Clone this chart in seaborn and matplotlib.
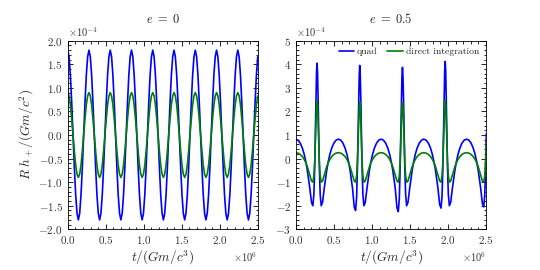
import numpy as np
import matplotlib
matplotlib.use("Agg")
import matplotlib.pyplot as plt
import seaborn as sns
from matplotlib.ticker import AutoMinorLocator, MultipleLocator

# e = 0 : waveform sampled at 144 points over t in [0, 2.5] (x 1e6), values x 1e-4
quad_e0 = [
    1.80, 1.66, 1.27, 0.69, 0.00, -0.69, -1.27, -1.66, -1.80, -1.66, -1.27, -0.69, 0.00, 0.69, 1.27, 1.66,
    1.80, 1.66, 1.27, 0.69, 0.00, -0.69, -1.27, -1.66, -1.80, -1.66, -1.27, -0.69, 0.00, 0.69, 1.27, 1.66,
    1.80, 1.66, 1.27, 0.69, 0.00, -0.69, -1.27, -1.66, -1.80, -1.66, -1.27, -0.69, 0.00, 0.69, 1.27, 1.66,
    1.80, 1.66, 1.27, 0.69, 0.00, -0.69, -1.27, -1.66, -1.80, -1.66, -1.27, -0.69, 0.00, 0.69, 1.27, 1.66,
    1.80, 1.66, 1.27, 0.69, 0.00, -0.69, -1.27, -1.66, -1.80, -1.66, -1.27, -0.69, 0.00, 0.69, 1.27, 1.66,
    1.80, 1.66, 1.27, 0.69, 0.00, -0.69, -1.27, -1.66, -1.80, -1.66, -1.27, -0.69, 0.00, 0.69, 1.27, 1.66,
    1.80, 1.66, 1.27, 0.69, 0.00, -0.69, -1.27, -1.66, -1.80, -1.66, -1.27, -0.69, 0.00, 0.69, 1.27, 1.66,
    1.80, 1.66, 1.27, 0.69, 0.00, -0.69, -1.27, -1.66, -1.80, -1.66, -1.27, -0.69, 0.00, 0.69, 1.27, 1.66,
    1.80, 1.66, 1.27, 0.69, 0.00, -0.69, -1.27, -1.66, -1.80, -1.66, -1.27, -0.69, 0.00, 0.69, 1.27, 1.66,
]
direct_e0 = [
    0.90, 0.83, 0.64, 0.34, 0.00, -0.34, -0.64, -0.83, -0.90, -0.83, -0.64, -0.34, 0.00, 0.34, 0.64, 0.83,
    0.90, 0.83, 0.64, 0.34, 0.00, -0.34, -0.64, -0.83, -0.90, -0.83, -0.64, -0.34, 0.00, 0.34, 0.64, 0.83,
    0.90, 0.83, 0.64, 0.34, 0.00, -0.34, -0.64, -0.83, -0.90, -0.83, -0.64, -0.34, 0.00, 0.34, 0.64, 0.83,
    0.90, 0.83, 0.64, 0.34, 0.00, -0.34, -0.64, -0.83, -0.90, -0.83, -0.64, -0.34, 0.00, 0.34, 0.64, 0.83,
    0.90, 0.83, 0.64, 0.34, 0.00, -0.34, -0.64, -0.83, -0.90, -0.83, -0.64, -0.34, 0.00, 0.34, 0.64, 0.83,
    0.90, 0.83, 0.64, 0.34, 0.00, -0.34, -0.64, -0.83, -0.90, -0.83, -0.64, -0.34, 0.00, 0.34, 0.64, 0.83,
    0.90, 0.83, 0.64, 0.34, 0.00, -0.34, -0.64, -0.83, -0.90, -0.83, -0.64, -0.34, 0.00, 0.34, 0.64, 0.83,
    0.90, 0.83, 0.64, 0.34, 0.00, -0.34, -0.64, -0.83, -0.90, -0.83, -0.64, -0.34, 0.00, 0.34, 0.64, 0.83,
    0.90, 0.83, 0.64, 0.34, 0.00, -0.34, -0.64, -0.83, -0.90, -0.83, -0.64, -0.34, 0.00, 0.34, 0.64, 0.83,
]
t_e0 = np.linspace(0.0, 2.5, len(quad_e0))

# e = 0.5 : denser sampling around each periastron burst
t_e05 = [
    0.0,
    0.0263, 0.0555, 0.0829, 0.1079, 0.1301, 0.1497, 0.1812, 0.2046, 0.2221, 0.2355, 0.2463, 0.2552, 0.2631, 0.2702, 0.2770,
    0.2838, 0.2909, 0.2988, 0.3077, 0.3185, 0.3319, 0.3494, 0.3728, 0.4043, 0.4239, 0.4461, 0.4711, 0.4985, 0.5278, 0.5580,
    0.5883, 0.6175, 0.6449, 0.6699, 0.6921, 0.7117, 0.7432, 0.7666, 0.7841, 0.7975, 0.8083, 0.8172, 0.8251, 0.8322, 0.8390,
    0.8458, 0.8529, 0.8608, 0.8697, 0.8805, 0.8939, 0.9114, 0.9348, 0.9663, 0.9859, 1.0081, 1.0331, 1.0605, 1.0898, 1.1200,
    1.1503, 1.1795, 1.2069, 1.2319, 1.2541, 1.2737, 1.3052, 1.3286, 1.3461, 1.3595, 1.3703, 1.3792, 1.3871, 1.3942, 1.4010,
    1.4078, 1.4149, 1.4228, 1.4317, 1.4425, 1.4559, 1.4734, 1.4968, 1.5283, 1.5479, 1.5701, 1.5951, 1.6225, 1.6518, 1.6820,
    1.7123, 1.7415, 1.7689, 1.7939, 1.8161, 1.8357, 1.8672, 1.8906, 1.9081, 1.9215, 1.9323, 1.9412, 1.9491, 1.9562, 1.9630,
    1.9698, 1.9769, 1.9848, 1.9937, 2.0045, 2.0179, 2.0354, 2.0588, 2.0903, 2.1099, 2.1321, 2.1571, 2.1845, 2.2138, 2.2440,
    2.2743, 2.3035, 2.3309, 2.3559, 2.3781, 2.3977, 2.4292, 2.4526, 2.4701, 2.4835, 2.4943, 2.5032,
]
quad_e05 = [
    0.82,
    0.783, 0.658, 0.455, 0.184, -0.141, -0.503, -1.238, -1.86, -2.00, -1.52, -0.413, 1.053, 2.566, 3.64, 4.05,
    3.64, 2.566, 1.053, -0.413, -1.52, -2.00, -1.86, -1.238, -0.503, -0.141, 0.184, 0.455, 0.658, 0.783, 0.825,
    0.783, 0.658, 0.455, 0.184, -0.141, -0.503, -1.238, -2.05, -2.20, -1.67, -0.413, 1.053, 2.566, 3.55, 3.95,
    3.55, 2.566, 1.053, -0.413, -1.52, -2.00, -1.86, -1.238, -0.503, -0.141, 0.184, 0.455, 0.658, 0.783, 0.825,
    0.783, 0.658, 0.455, 0.184, -0.141, -0.503, -1.238, -2.09, -2.25, -1.71, -0.413, 1.053, 2.566, 3.48, 3.87,
    3.48, 2.566, 1.053, -0.413, -1.52, -2.00, -1.86, -1.238, -0.503, -0.141, 0.184, 0.455, 0.658, 0.783, 0.825,
    0.783, 0.658, 0.455, 0.184, -0.141, -0.503, -1.238, -1.95, -2.10, -1.60, -0.413, 1.053, 2.566, 3.70, 4.12,
    3.70, 2.566, 1.053, -0.413, -1.52, -2.00, -1.86, -1.238, -0.503, -0.141, 0.184, 0.455, 0.658, 0.783, 0.825,
    0.783, 0.658, 0.455, 0.184, -0.141, -0.503, -1.238, -1.91, -2.05, -1.56, -0.413, 1.053,
]
direct_e05 = [
    0.248,
    0.232, 0.177, 0.089, -0.032, -0.178, -0.344, -0.688, -0.951, -1.00, -0.735, -0.137, 0.694, 1.557, 2.208, 2.45,
    2.208, 1.557, 0.694, -0.137, -0.735, -1.00, -0.951, -0.688, -0.344, -0.178, -0.032, 0.089, 0.177, 0.232, 0.25,
    0.232, 0.177, 0.089, -0.032, -0.178, -0.344, -0.688, -0.951, -1.00, -0.735, -0.137, 0.694, 1.557, 2.18, 2.42,
    2.18, 1.557, 0.694, -0.137, -0.735, -1.00, -0.951, -0.688, -0.344, -0.178, -0.032, 0.089, 0.177, 0.232, 0.25,
    0.232, 0.177, 0.089, -0.032, -0.178, -0.344, -0.688, -0.951, -1.00, -0.735, -0.137, 0.694, 1.557, 2.14, 2.38,
    2.14, 1.557, 0.694, -0.137, -0.735, -1.00, -0.951, -0.688, -0.344, -0.178, -0.032, 0.089, 0.177, 0.232, 0.25,
    0.232, 0.177, 0.089, -0.032, -0.178, -0.344, -0.688, -0.951, -1.00, -0.735, -0.137, 0.694, 1.557, 2.23, 2.48,
    2.23, 1.557, 0.694, -0.137, -0.735, -1.00, -0.951, -0.688, -0.344, -0.178, -0.032, 0.089, 0.177, 0.232, 0.25,
    0.232, 0.177, 0.089, -0.032, -0.178, -0.344, -0.688, -0.951, -1.00, -0.735, -0.137, 0.694,
]

titles = [r"$e\;=\;0$", r"$e\;=\;0.5$"]
labels = ["quad", "direct integration"]

sns.set_theme(style="ticks")
plt.rcParams["font.family"] = "serif"
plt.rcParams["font.serif"] = ["cmr10", "DejaVu Serif"]
plt.rcParams["mathtext.fontset"] = "cm"
plt.rcParams["axes.formatter.use_mathtext"] = True
plt.rcParams["axes.unicode_minus"] = True
plt.rcParams["axes.edgecolor"] = "black"
plt.rcParams["axes.linewidth"] = 0.6

fig = plt.figure(figsize=(5.4, 2.7), dpi=100)
ax1 = fig.add_axes([0.1254, 0.1507, 0.3519, 0.6985])
ax2 = fig.add_axes([0.5481, 0.1507, 0.3519, 0.6985])

sns.lineplot(x=t_e0 * 1e6, y=np.array(quad_e0) * 1e-4, ax=ax1, color="#0000ff", lw=1.2, estimator=None)
sns.lineplot(x=t_e0 * 1e6, y=np.array(direct_e0) * 1e-4, ax=ax1, color="#008000", lw=1.2, estimator=None)

sns.lineplot(x=np.array(t_e05) * 1e6, y=np.array(quad_e05) * 1e-4, ax=ax2, color="#0000ff",
             lw=1.2, estimator=None, label=labels[0])
sns.lineplot(x=np.array(t_e05) * 1e6, y=np.array(direct_e05) * 1e-4, ax=ax2, color="#008000",
             lw=1.2, estimator=None, label=labels[1])

ax1.set_ylim(-2.0e-4, 2.0e-4)
ax1.yaxis.set_major_locator(MultipleLocator(0.5e-4))
ax2.set_ylim(-3e-4, 5e-4)
ax2.yaxis.set_major_locator(MultipleLocator(1e-4))

for ax, title in zip([ax1, ax2], titles):
    ax.set_xlim(0, 2.5e6)
    ax.xaxis.set_major_locator(MultipleLocator(0.5e6))
    ax.xaxis.set_minor_locator(AutoMinorLocator())
    ax.yaxis.set_minor_locator(AutoMinorLocator())
    ax.ticklabel_format(axis="both", style="sci", scilimits=(0, 0))
    ax.tick_params(which="both", direction="in", top=True, right=True, labelsize=8,
                   width=0.6, colors="black", labelcolor="#333333")
    ax.tick_params(which="major", length=3.5)
    ax.tick_params(which="minor", length=1.8)
    ax.xaxis.get_offset_text().set_fontsize(7.5)
    ax.yaxis.get_offset_text().set_fontsize(7.5)
    ax.set_title(title, fontsize=9, pad=13)
    ax.set_xlabel("$t/(Gm/c^3)$", fontsize=9.5, labelpad=2)
    ax.set_ylabel("")

ax1.set_ylabel("$R\\ h_+/(Gm/c^2)$", fontsize=9.5, labelpad=2)

ax2.legend(loc="upper right", ncol=2, frameon=False, fontsize=7,
           handlelength=1.6, handletextpad=0.3, columnspacing=1.0,
           borderaxespad=0.3)

fig.savefig("out.png", dpi=100)
